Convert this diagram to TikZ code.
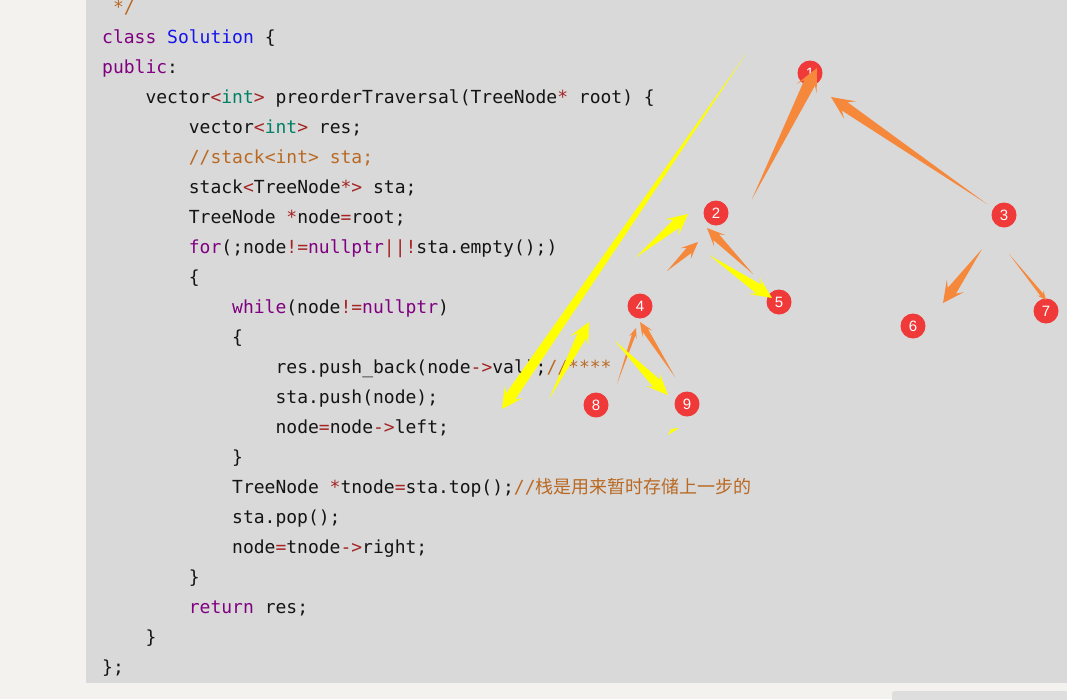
\documentclass[tikz,border=0pt]{standalone}
\usepackage{fontspec}
\newfontfamily\codigo{DejaVu Sans Mono}
\newfontfamily\numeros{Liberation Sans}
\newfontfamily\cjk{Noto Sans CJK SC}
\usepackage{tikz}
\usetikzlibrary{calc}
\definecolor{fondo}{RGB}{243,242,238}
\definecolor{caja}{RGB}{217,217,217}
\definecolor{barra}{RGB}{222,222,222}
\definecolor{texto}{RGB}{20,20,20}
\definecolor{clave}{RGB}{128,0,128}
\definecolor{clase}{RGB}{20,20,235}
\definecolor{tipo}{RGB}{0,128,100}
\definecolor{oper}{RGB}{165,35,35}
\definecolor{coment}{RGB}{185,105,35}
\definecolor{rojo}{RGB}{240,58,58}
\definecolor{naranja}{RGB}{245,136,58}
\definecolor{amarillo}{RGB}{255,255,0}
\newcommand{\kw}[1]{\textcolor{clave}{#1}}
\newcommand{\cls}[1]{\textcolor{clase}{#1}}
\newcommand{\ty}[1]{\textcolor{tipo}{#1}}
\newcommand{\op}[1]{\textcolor{oper}{#1}}
\newcommand{\cm}[1]{\textcolor{coment}{#1}}
% flecha afilada: color, cola, punta, largo cabeza, ancho cabeza, ancho cuerpo
\newcommand{\flecha}[6]{%
	\path ($(#3)!#4!(#2)$) coordinate (fb)
		($(#3)!{0.72*#4}!(#2)$) coordinate (fm);
	\fill[#1] (#2) -- ($(fm)!#6!90:(#3)$) -- ($(fb)!#5!90:(#3)$) -- (#3)
		-- ($(fb)!#5!-90:(#3)$) -- ($(fm)!#6!-90:(#3)$) -- cycle;
}
\tikzset{
	linea/.style={anchor=base west, inner sep=0pt, text=texto,
		font=\codigo\fontsize{18}{20}\selectfont}, % Lineas de codigo
	punto/.style={circle, fill=rojo, text=white, minimum size=25pt, inner sep=0pt,
		font=\numeros\fontsize{15}{15}\selectfont}, % Circulos numerados
	x=1pt, y=-1pt % Un punto por pixel
}

\begin{document}
\begin{tikzpicture}
	\useasboundingbox[fill=fondo] (0,0) rectangle (1067,699);
	\fill[caja] (86,0) rectangle (1067,683);
	\fill[barra, rounded corners=3pt] (892,691) rectangle (1075,707);

	\node[linea] (l0) at (112.8,13) {\cm{*/}};
	\node[linea] (l1) at (102,43) {\kw{class} \cls{Solution} \{};
	\node[linea] (l2) at (102,73) {\kw{public}:};
	\node[linea] (l3) at (145.3,103) {vector\op{<}\ty{int}\op{>} preorderTraversal(TreeNode\op{*} root) \{};
	\node[linea] (l4) at (188.7,133) {vector\op{<}\ty{int}\op{>} res;};
	\node[linea] (l5) at (188.7,163) {\cm{//stack<int> sta;}};
	\node[linea] (l6) at (188.7,193) {stack\op{<}TreeNode\op{*>} sta;};
	\node[linea] (l7) at (188.7,223) {TreeNode \op{*}node\op{=}root;};
	\node[linea] (l8) at (188.7,253) {\kw{for}(;node\op{!=}\kw{nullptr}\op{||!}sta.empty();)};
	\node[linea] (l9) at (188.7,283) {\{};
	\node[linea] (l10) at (232,313) {\kw{while}(node\op{!=}\kw{nullptr})};
	\node[linea] (l11) at (232,343) {\{};
	\node[linea] (l12) at (275.4,373) {res.push\_back(node\op{->}val);\cm{//****}};
	\node[linea] (l13) at (275.4,403) {sta.push(node);};
	\node[linea] (l14) at (275.4,433) {node\op{=}node\op{->}left;};
	\node[linea] (l15) at (232,463) {\}};
	\node[linea] (l16) at (232,493) {TreeNode \op{*}tnode\op{=}sta.top();\cm{//{\cjk 栈是用来暂时存储上一步的}}};
	\node[linea] (l17) at (232,523) {sta.pop();};
	\node[linea] (l18) at (232,553) {node\op{=}tnode\op{->}right;};
	\node[linea] (l19) at (188.7,583) {\}};
	\node[linea] (l20) at (188.7,613) {\kw{return} res;};
	\node[linea] (l21) at (145.3,643) {\}};
	\node[linea] (l22) at (102,673) {\};};

	\node[punto] (n1) at (810,73) {1};
	\node[punto] (n2) at (716,213) {2};
	\node[punto] (n3) at (1004,215) {3};
	\node[punto] (n4) at (640,306) {4};
	\node[punto] (n5) at (779,302) {5};
	\node[punto] (n6) at (913,326) {6};
	\node[punto] (n7) at (1046,311) {7};
	\node[punto] (n8) at (596,405) {8};
	\node[punto] (n9) at (687,404) {9};

	\coordinate (a1) at (752,199);  \coordinate (b1) at (817,68);
	\coordinate (a2) at (987,204);  \coordinate (b2) at (831,97);
	\coordinate (a3) at (982,249);  \coordinate (b3) at (943,303);
	\coordinate (a4) at (1009,254); \coordinate (b4) at (1046,300);
	\coordinate (a5) at (753,274);  \coordinate (b5) at (707,228);
	\coordinate (a6) at (667,271);  \coordinate (b6) at (698,242);
	\coordinate (a7) at (617,384);  \coordinate (b7) at (636,328);
	\coordinate (a8) at (675,377);  \coordinate (b8) at (640,322);
	\coordinate (a9) at (746,54);   \coordinate (b9) at (502,409);
	\coordinate (a10) at (635,258); \coordinate (b10) at (688,214);
	\coordinate (a11) at (709,255); \coordinate (b11) at (772,298);
	\coordinate (a12) at (549,399); \coordinate (b12) at (589,322);
	\coordinate (a13) at (615,341); \coordinate (b13) at (668,395);

	\flecha{naranja}{a1}{b1}{23pt}{11pt}{6pt}
	\flecha{naranja}{a2}{b2}{23pt}{10.5pt}{5pt}
	\flecha{naranja}{a3}{b3}{21pt}{10.5pt}{5pt}
	\flecha{naranja}{a4}{b4}{9pt}{4pt}{1.8pt}
	\flecha{naranja}{a5}{b5}{18pt}{8pt}{4pt}
	\flecha{naranja}{a6}{b6}{17pt}{7.5pt}{3.5pt}
	\flecha{naranja}{a7}{b7}{10pt}{4pt}{1.8pt}
	\flecha{naranja}{a8}{b8}{14pt}{6pt}{3pt}
	\flecha{amarillo}{a9}{b9}{21pt}{11pt}{5.5pt}
	\flecha{amarillo}{a10}{b10}{21pt}{10.5pt}{5pt}
	\flecha{amarillo}{a11}{b11}{22pt}{10pt}{5pt}
	\flecha{amarillo}{a12}{b12}{21pt}{10pt}{5pt}
	\flecha{amarillo}{a13}{b13}{22pt}{9.5pt}{5pt}
	\fill[amarillo] (668,435) -- (679,428) -- (671,429) -- cycle;
\end{tikzpicture}
\end{document}
